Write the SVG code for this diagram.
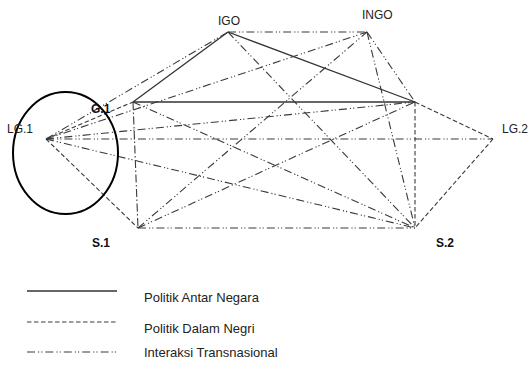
<svg xmlns="http://www.w3.org/2000/svg" width="531" height="374" viewBox="0 0 531 374">
<style>
text{font-family:"Liberation Sans",Arial,sans-serif;font-size:12px;fill:#222}
.b{font-weight:bold;fill:#111}
.lg{font-size:13px}
.s{stroke:#333;stroke-width:1.3;fill:none}
.d{stroke:#3a3a3a;stroke-width:1.1;fill:none;stroke-dasharray:4.5 2.5}
.t{stroke:#3a3a3a;stroke-width:1.1;fill:none;stroke-dasharray:8 3 1.2 2 1.2 3}
.v{stroke:#3a3a3a;stroke-width:1.1;fill:none;stroke-dasharray:8 2.5 1.5 2.5}
</style>
<rect width="531" height="374" fill="#fff"/>
<g id="connectors">
<line class="s" x1="228" y1="32" x2="133" y2="102"/>
<line class="s" x1="228" y1="32" x2="415" y2="102"/>
<line class="s" x1="133" y1="102" x2="415" y2="102"/>
<line class="d" x1="46" y1="139" x2="138" y2="228"/>
<line class="d" x1="46" y1="139" x2="133" y2="102"/>
<line class="d" x1="415" y1="102" x2="493" y2="139"/>
<line class="d" x1="493" y1="139" x2="415" y2="228"/>
<line class="d" x1="415" y1="102" x2="415" y2="228"/>
<line class="v" x1="133" y1="102" x2="138" y2="228"/>
<line class="t" x1="228" y1="32" x2="367" y2="32"/>
<line class="t" x1="46" y1="139" x2="228" y2="32"/>
<line class="t" x1="46" y1="139" x2="367" y2="32"/>
<line class="t" x1="46" y1="139" x2="415" y2="102"/>
<line class="t" x1="46" y1="139" x2="493" y2="139"/>
<line class="t" x1="46" y1="139" x2="415" y2="228"/>
<line class="t" x1="133" y1="102" x2="415" y2="228"/>
<line class="t" x1="138" y1="228" x2="415" y2="228"/>
<line class="t" x1="138" y1="228" x2="367" y2="32"/>
<line class="t" x1="138" y1="228" x2="415" y2="102"/>
<line class="t" x1="228" y1="32" x2="415" y2="228"/>
<line class="t" x1="367" y1="32" x2="415" y2="102"/>
<line class="t" x1="367" y1="32" x2="415" y2="228"/>
</g>
<g id="ellipse"><ellipse cx="65.5" cy="153" rx="52.5" ry="61" fill="none" stroke="#000" stroke-width="2"/></g>
<g id="IGO"><text x="218" y="25">IGO</text></g>
<g id="INGO"><text x="362" y="19">INGO</text></g>
<g id="G1"><text class="b" x="91" y="113">G.1</text></g>
<g id="LG1"><text x="7" y="133">LG.1</text></g>
<g id="LG2"><text x="502" y="133">LG.2</text></g>
<g id="S1"><text class="b" x="92" y="247">S.1</text></g>
<g id="S2"><text class="b" x="436" y="247">S.2</text></g>
<g id="legend">
<line class="s" x1="27" y1="291" x2="117" y2="291"/>
<text class="lg" x="144" y="302">Politik Antar Negara</text>
<line class="d" x1="27" y1="322" x2="117" y2="322"/>
<text class="lg" x="144" y="333">Politik Dalam Negri</text>
<line class="t" x1="27" y1="352" x2="117" y2="352"/>
<text class="lg" x="144" y="357">Interaksi Transnasional</text>
</g>
</svg>
